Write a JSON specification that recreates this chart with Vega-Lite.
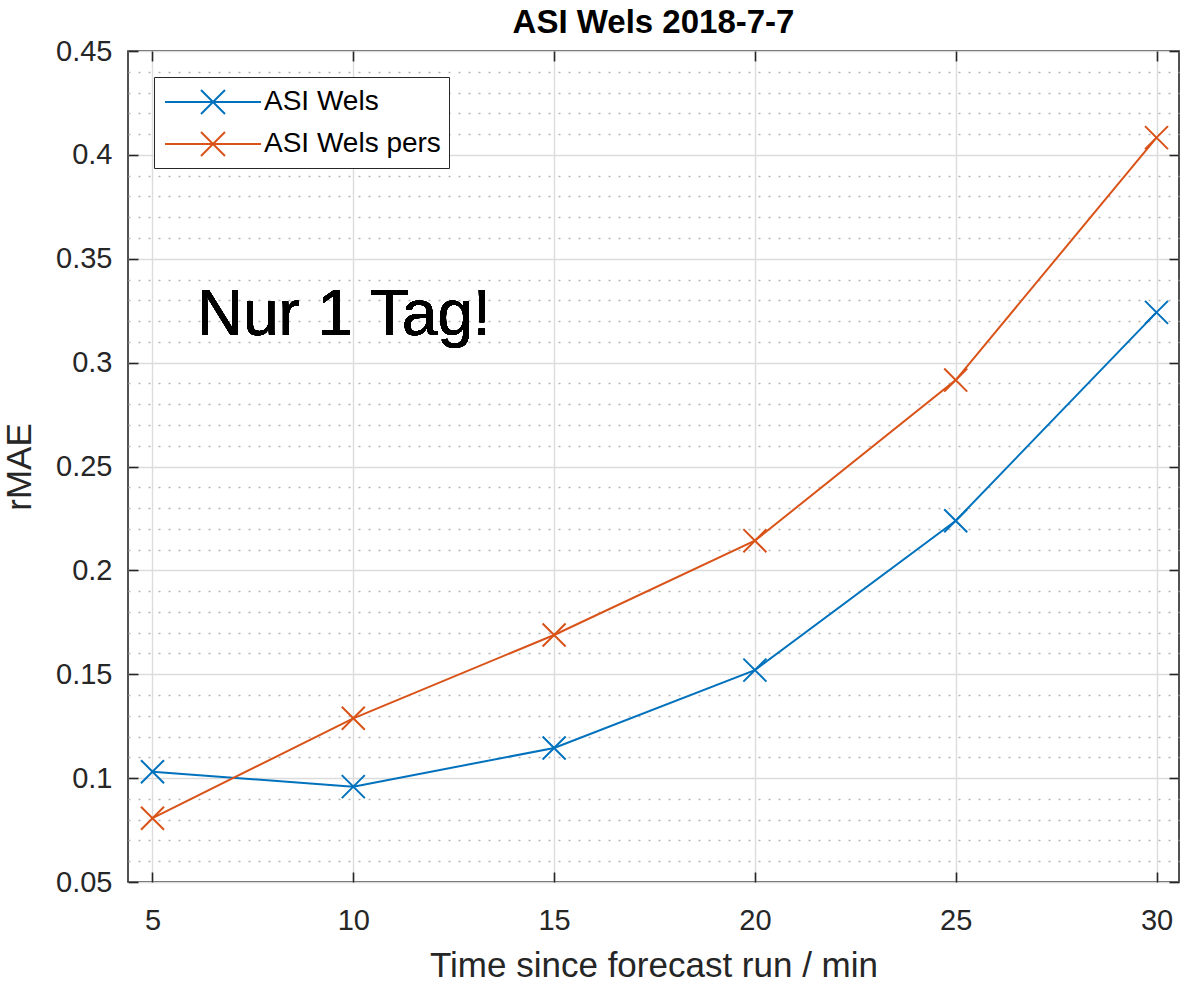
{
  "$schema": "https://vega.github.io/schema/vega-lite/v6.json",
  "autosize": {"type": "none"},
  "padding": {"left": 128, "top": 51, "right": 1, "bottom": 100},
  "width": 1051,
  "height": 831,
  "background": "white",
  "config": {
    "font": "Liberation Sans",
    "view": {"stroke": "#262626", "strokeWidth": 1.6},
    "axis": {
      "labelFont": "Liberation Sans",
      "titleFont": "Liberation Sans",
      "labelColor": "#262626",
      "titleColor": "#262626",
      "labelFontSize": 29,
      "titleFontSize": 35,
      "titleFontWeight": "normal",
      "domain": false,
      "tickColor": "#262626",
      "tickWidth": 1.6,
      "gridColor": "#dcdcdc",
      "gridWidth": 1.4
    }
  },
  "title": {
    "text": "ASI Wels 2018-7-7",
    "font": "Liberation Sans",
    "fontSize": 33,
    "fontWeight": "bold",
    "color": "#000000",
    "anchor": "middle",
    "frame": "group",
    "baseline": "alphabetic",
    "offset": 6,
    "dy": 35
  },
  "data": {
    "values": [
      {"t": 5, "series": "ASI Wels", "rmae": 0.1031},
      {"t": 10, "series": "ASI Wels", "rmae": 0.0959},
      {"t": 15, "series": "ASI Wels", "rmae": 0.1145},
      {"t": 20, "series": "ASI Wels", "rmae": 0.1520},
      {"t": 25, "series": "ASI Wels", "rmae": 0.2239},
      {"t": 30, "series": "ASI Wels", "rmae": 0.3242},
      {"t": 5, "series": "ASI Wels pers", "rmae": 0.0807},
      {"t": 10, "series": "ASI Wels pers", "rmae": 0.1288},
      {"t": 15, "series": "ASI Wels pers", "rmae": 0.1689},
      {"t": 20, "series": "ASI Wels pers", "rmae": 0.2143},
      {"t": 25, "series": "ASI Wels pers", "rmae": 0.2916},
      {"t": 30, "series": "ASI Wels pers", "rmae": 0.4083}
    ]
  },
  "resolve": {"axis": {"x": "independent", "y": "independent"}},
  "layer": [
    {
      "mark": {"type": "line", "strokeWidth": 2},
      "encoding": {
        "x": {
          "field": "t", "type": "quantitative",
          "scale": {"domain": [4.39, 30.56], "nice": false, "zero": false},
          "axis": {
            "orient": "bottom",
            "values": [5, 10, 15, 20, 25, 30],
            "grid": true,
            "tickSize": -10,
            "labelPadding": 34,
            "title": "Time since forecast run / min",
            "titlePadding": 13
          }
        },
        "y": {
          "field": "rmae", "type": "quantitative",
          "scale": {"domain": [0.05, 0.45], "nice": false, "zero": false},
          "axis": {
            "orient": "left",
            "values": [0.06, 0.07, 0.08, 0.09, 0.11, 0.12, 0.13, 0.14, 0.16, 0.17, 0.18, 0.19, 0.21, 0.22, 0.23, 0.24, 0.26, 0.27, 0.28, 0.29, 0.31, 0.32, 0.33, 0.34, 0.36, 0.37, 0.38, 0.39, 0.41, 0.42, 0.43, 0.44],
            "grid": true,
            "gridDash": [2, 8],
            "gridColor": "#b4b4b4",
            "gridWidth": 1.4,
            "labels": false,
            "ticks": false,
            "title": null
          }
        },
        "color": {
          "field": "series", "type": "nominal",
          "scale": {"domain": ["ASI Wels", "ASI Wels pers"], "range": ["#0072BD", "#D95319"]},
          "legend": {
            "title": null,
            "orient": "top-left",
            "offset": 26,
            "padding": 8,
            "strokeColor": "#262626",
            "fillColor": "white",
            "symbolType": "M-3,0L3,0M-0.75,-0.75L0.75,0.75M-0.75,0.75L0.75,-0.75",
            "symbolSize": 1024,
            "symbolOffset": 34,
            "symbolStrokeWidth": 2,
            "symbolFillColor": "transparent",
            "labelFont": "Liberation Sans",
            "labelFontSize": 28,
            "labelColor": "#000000",
            "labelLimit": 400,
            "labelOffset": 34,
            "rowPadding": 9
          }
        }
      }
    },
    {
      "mark": {"type": "point", "shape": "M-1,-1L1,1M-1,1L1,-1", "filled": false, "size": 530, "strokeWidth": 2, "opacity": 1},
      "encoding": {
        "x": {
          "field": "t", "type": "quantitative",
          "axis": {
            "orient": "top",
            "values": [5, 10, 15, 20, 25, 30],
            "grid": false,
            "tickSize": -10,
            "labels": false,
            "title": null,
            "minExtent": 0,
            "maxExtent": 0
          }
        },
        "y": {
          "field": "rmae", "type": "quantitative",
          "axis": {
            "orient": "left",
            "values": [0.05, 0.1, 0.15, 0.2, 0.25, 0.3, 0.35, 0.4, 0.45],
            "format": ".2~f",
            "grid": true,
            "tickSize": -10,
            "labelPadding": 26,
            "title": "rMAE",
            "titlePadding": 18
          }
        },
        "color": {"field": "series", "type": "nominal"}
      }
    },
    {
      "mark": {"type": "text", "align": "left", "baseline": "alphabetic", "font": "Liberation Sans", "fontSize": 64, "color": "#000000"},
      "encoding": {
        "x": {"datum": 6.1, "type": "quantitative", "axis": null},
        "y": {
          "datum": 0.3133, "type": "quantitative",
          "axis": {
            "orient": "right",
            "values": [0.05, 0.1, 0.15, 0.2, 0.25, 0.3, 0.35, 0.4, 0.45],
            "grid": false,
            "tickSize": -10,
            "labels": false,
            "title": null
          }
        },
        "text": {"value": "Nur 1 Tag!"}
      }
    }
  ]
}
